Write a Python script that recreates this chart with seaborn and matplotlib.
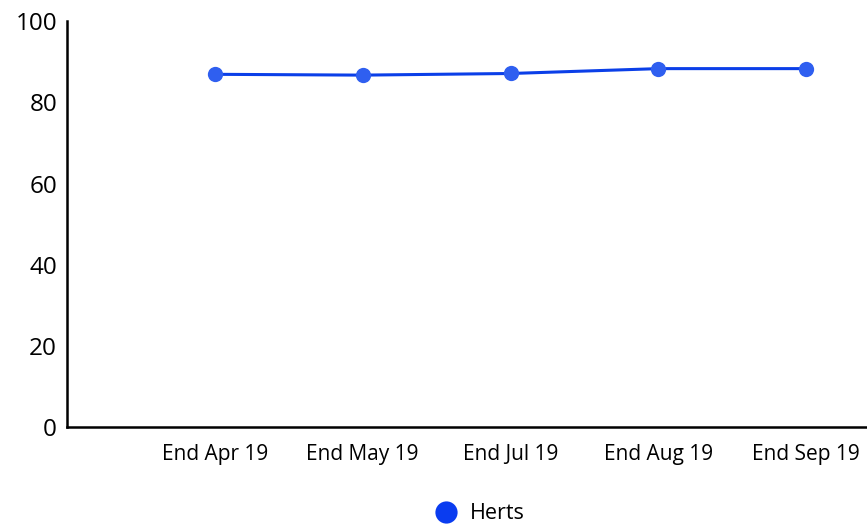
import numpy as np
import pandas as pd
import seaborn as sns
import matplotlib.pyplot as plt
from matplotlib.lines import Line2D

plt.switch_backend('agg')

categories = ["End Apr 19", "End May 19", "End Jul 19", "End Aug 19", "End Sep 19"]
herts = [86.9, 86.7, 87.1, 88.3, 88.3]
series_name = "Herts"

df = pd.DataFrame({"pos": np.arange(len(categories)), "value": herts})

sns.set_style("white")
plt.rcParams['font.family'] = ['Open Sans', 'DejaVu Sans']
plt.rcParams['text.color'] = 'black'
plt.rcParams['xtick.color'] = 'black'
plt.rcParams['ytick.color'] = 'black'

fig = plt.figure(figsize=(8.67, 5.28), dpi=100)
ax = fig.add_axes([0.077, 0.191, 0.923, 0.769])

line_color = "#0b3fe8"
sns.lineplot(data=df, x="pos", y="value", ax=ax, color=line_color, linewidth=2.2,
             marker="o", markersize=11, markeredgewidth=0, legend=False)
for ln in ax.lines:
    ln.set_markerfacecolor("#2f5ff0")

ax.set_xlim(-1, len(categories) - 1 + 0.41)
ax.set_ylim(0, 100)
ax.set_yticks(range(0, 101, 20))
ax.set_xticks(df["pos"])
ax.set_xticklabels(categories)
ax.tick_params(axis="y", labelsize=17.5, length=0, pad=7)
ax.tick_params(axis="x", labelsize=15, length=0, pad=12)
ax.set_xlabel("")
ax.set_ylabel("")

for side in ["top", "right"]:
    ax.spines[side].set_visible(False)
for side in ["left", "bottom"]:
    ax.spines[side].set_color("black")
    ax.spines[side].set_linewidth(1.8)

handle = Line2D([0], [0], marker="o", linestyle="none", markersize=16,
                markerfacecolor="#0a3cf0", markeredgewidth=0)
fig.legend([handle], [series_name], loc="center", bbox_to_anchor=(0.547, 0.027),
           frameon=False, fontsize=15.5, handletextpad=0.1)

fig.savefig("out.png", dpi=100)
